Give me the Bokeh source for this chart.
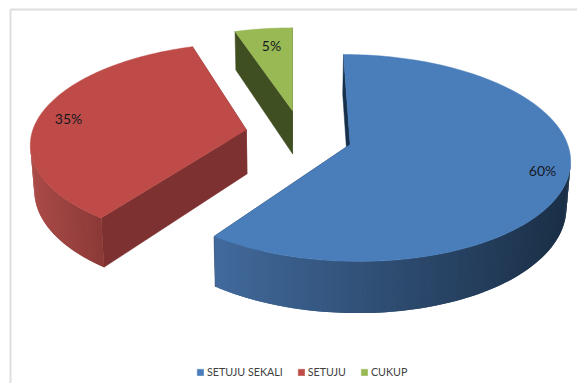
import numpy as np
from bokeh.embed import file_html
from bokeh.resources import INLINE
from bokeh.plotting import figure
from bokeh.models import Legend, LegendItem, Range1d
from bokeh.core.properties import value

WIDTH, HEIGHT = 577, 383

# Chart data
categories = ["SETUJU SEKALI", "SETUJU", "CUKUP"]
shares = [60, 35, 5]
share_labels = ["60%", "35%", "5%"]

# Colours per slice
top_colors = ["#4A7EBB", "#BE4B48", "#98B954"]
cut_colors = ["#17304C", "#7D3231", "#3F4F22"]
wall_left = ["#41699B", "#AB4B48", "#5A7030"]
wall_right = ["#1A2F46", "#8B3A38", "#3F4F22"]

# Exploded offsets of each slice on the pie plane (radius = 1)
explode_x = [0.265, -0.2165, 0.0]
explode_y = [0.0, 0.148, 0.3477]

# Perspective camera for the tilted pie
VANISH_X, BASE_Y = 292.0, 144.0
SCALE_X, SCALE_Y = 217.5, 101.7
PERSPECTIVE = 0.13
DEPTH = 45.0
BOTTOM_SHRINK = 0.985

# Label anchors in plot coordinates
label_x = [542, 68, 271]
label_y = [170, 118, 45]


def project(px, py, lower=False):
    w = 1 + PERSPECTIVE * py
    sx = SCALE_X * px / w
    sy = BASE_Y - SCALE_Y * py / w
    if lower:
        sx *= BOTTOM_SHRINK
        sy += DEPTH / w
    return VANISH_X + sx, sy


def hex_mix(a, b, t):
    ca = np.array([int(a[i:i + 2], 16) for i in (1, 3, 5)], float)
    cb = np.array([int(b[i:i + 2], 16) for i in (1, 3, 5)], float)
    c = ca + (cb - ca) * t
    return "#%02x%02x%02x" % tuple(int(round(v)) for v in c)


p = figure(width=WIDTH, height=HEIGHT, output_backend="svg", toolbar_location=None,
           x_range=Range1d(0, WIDTH), y_range=Range1d(HEIGHT, 0),
           min_border=0, outline_line_color=None, background_fill_color="white",
           border_fill_color="white")
p.xaxis.visible = False
p.yaxis.visible = False
p.grid.visible = False

# Chart frame, running off the page on the right and at the bottom
p.line([10, 10, 590], [395, 9, 9], line_color="#DEDEDE", line_width=2)

total = sum(shares)
bounds = np.cumsum([0] + shares) / total * 2 * np.pi
tops = []

# Draw back to front: the green, then the red, then the blue slice
for i in [2, 1, 0]:
    a0, a1 = bounds[i], bounds[i + 1]
    theta = np.linspace(a0, a1, max(int((a1 - a0) / 0.02), 8))
    cx, cy = explode_x[i], explode_y[i]
    rim_px = cx + np.sin(theta)
    rim_py = cy + np.cos(theta)

    # Cut faces between the rim ends and the slice's apex
    for rx, ry in [(rim_px[0], rim_py[0]), (rim_px[-1], rim_py[-1])]:
        a = project(rx, ry)
        b = project(cx, cy)
        c = project(cx, cy, True)
        d = project(rx, ry, True)
        p.patch([a[0], b[0], c[0], d[0]], [a[1], b[1], c[1], d[1]],
                fill_color=cut_colors[i], line_color=cut_colors[i], line_width=0.5)

    # Outer wall, only where it faces the viewer, as overlapping shaded strips
    ux, uy = project(rim_px, rim_py)
    lx, ly = project(rim_px, rim_py, True)
    front = np.where(ux[1:] < ux[:-1])[0]
    if len(front):
        xmin, xmax = lx[front].min(), lx[front].max()
        xs, ys, colors = [], [], []
        for k in front[::-1]:
            j = max(k - 1, front[0])
            xs.append([ux[j], ux[k + 1], lx[k + 1], lx[j]])
            ys.append([uy[j], uy[k + 1], ly[k + 1], ly[j]])
            t = (0.5 * (lx[k] + lx[k + 1]) - xmin) / max(xmax - xmin, 1)
            colors.append(hex_mix(wall_left[i], wall_right[i], t))
        p.patches(xs, ys, fill_color=colors, line_color=None)

    # Top face
    ax, ay = project(cx, cy)
    tops.append(p.patch(np.r_[ax, ux], np.r_[ay, uy], fill_color=top_colors[i],
                        line_color=top_colors[i], line_width=0.5))

tops = tops[::-1]

p.text(label_x, label_y, text=share_labels, text_font=value("Lato"), text_font_size="14px",
       text_color="#16181F", text_align="center", text_baseline="middle")

legend = Legend(
    items=[LegendItem(label=c, renderers=[r]) for c, r in zip(categories, tops)],
    orientation="horizontal", location=(196, 5),
    glyph_width=8, glyph_height=8, label_standoff=3, spacing=14,
    label_text_font="Lato", label_text_font_size="10.7px", label_text_color="#404040",
    background_fill_alpha=0, border_line_color=None, padding=6, margin=0,
)
p.add_layout(legend, "center")

open("out.html", "w").write(file_html(p, INLINE))
